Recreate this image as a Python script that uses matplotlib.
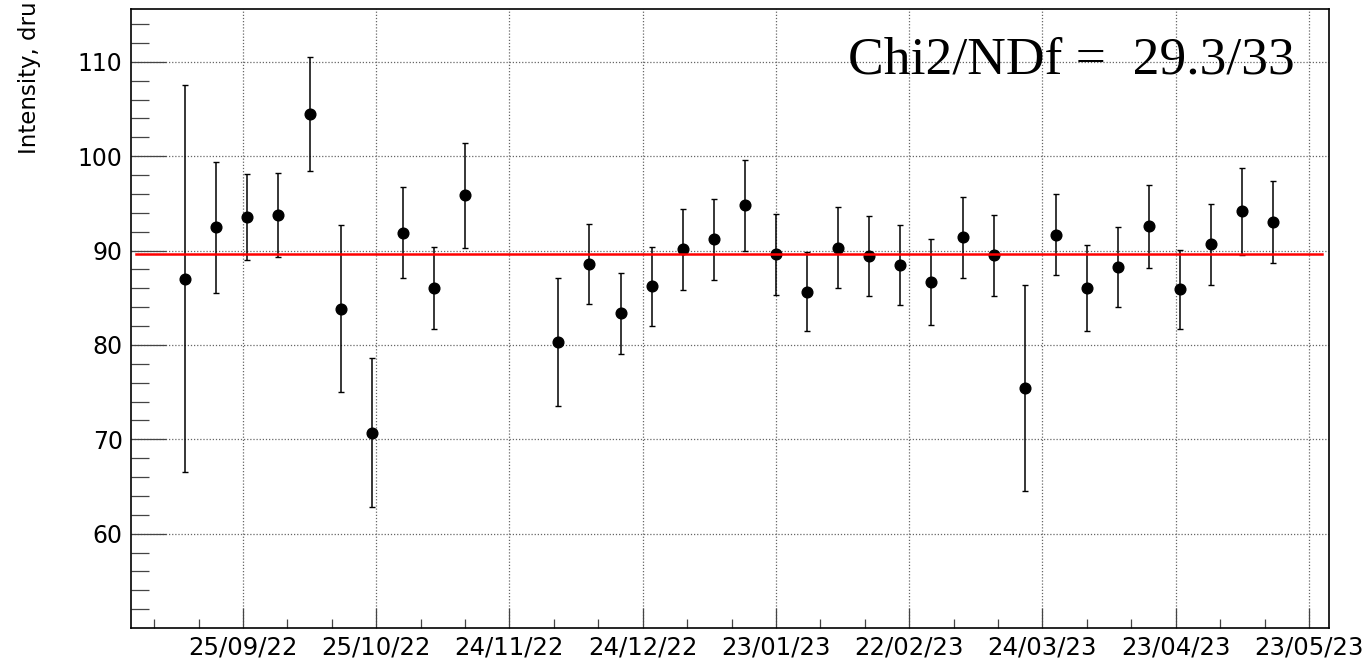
import numpy as np
import matplotlib
matplotlib.use("Agg")
import matplotlib.pyplot as plt
import matplotlib.dates as mdates
from matplotlib.ticker import FixedLocator

# weekly intensity measurements (Mondays), with symmetric errors
dates = [
    "2022-09-12", "2022-09-19", "2022-09-26", "2022-10-03", "2022-10-10",
    "2022-10-17", "2022-10-24", "2022-10-31", "2022-11-07", "2022-11-14",
    "2022-12-05", "2022-12-12", "2022-12-19", "2022-12-26", "2023-01-02",
    "2023-01-09", "2023-01-16", "2023-01-23", "2023-01-30", "2023-02-06",
    "2023-02-13", "2023-02-20", "2023-02-27", "2023-03-06", "2023-03-13",
    "2023-03-20", "2023-03-27", "2023-04-03", "2023-04-10", "2023-04-17",
    "2023-04-24", "2023-05-01", "2023-05-08", "2023-05-15",
]
intensity = [
    87.0, 92.45, 93.6, 93.8, 104.5, 83.85, 70.7, 91.9, 86.0, 95.85,
    80.3, 88.6, 83.35, 86.2, 90.15, 91.2, 94.8, 89.6, 85.65, 90.3,
    89.4, 88.45, 86.7, 91.4, 89.5, 75.4, 91.7, 86.0, 88.25, 92.55,
    85.9, 90.65, 94.15, 93.0,
]
errors = [
    20.5, 6.9, 4.55, 4.45, 6.05, 8.85, 7.9, 4.8, 4.35, 5.6,
    6.75, 4.25, 4.3, 4.15, 4.3, 4.3, 4.8, 4.3, 4.2, 4.3,
    4.25, 4.25, 4.55, 4.3, 4.3, 10.9, 4.3, 4.55, 4.25, 4.35,
    4.2, 4.3, 4.6, 4.35,
]

# constant fit
fit_value = 89.65
fit_range = ["2022-09-01", "2023-05-26"]
chi2_text = "Chi2/NDf =  29.3/33"

x = np.array(dates, dtype="datetime64[D]")
fit_x = np.array(fit_range, dtype="datetime64[D]")

fig = plt.figure(figsize=(13.69, 6.6), dpi=100)
ax = fig.add_axes([131 / 1369, 1 - 628 / 660, 1198 / 1369, 619 / 660])

ax.errorbar(x, intensity, yerr=errors, fmt="o", color="black",
            markersize=7.7, elinewidth=1.1, capsize=2.3, capthick=1.0,
            zorder=3)
ax.plot(fit_x, [fit_value, fit_value], color="#ff0000", lw=1.8, zorder=4)

# axis ranges
ax.set_xlim(np.datetime64("2022-08-30T19:12"), np.datetime64("2023-05-27T12:00"))
ax.set_ylim(50, 115.6)

# time axis: labels every 30 days, minor ticks every 10 days
major_days = np.arange(np.datetime64("2022-09-25"), np.datetime64("2023-05-24"),
                       np.timedelta64(30, "D"))
minor_days = np.arange(np.datetime64("2022-09-05"), np.datetime64("2023-05-27"),
                       np.timedelta64(10, "D"))
ax.xaxis.set_major_locator(FixedLocator(mdates.date2num(major_days)))
ax.xaxis.set_minor_locator(FixedLocator(mdates.date2num(minor_days)))
ax.xaxis.set_major_formatter(mdates.DateFormatter("%d/%m/%y"))

ax.yaxis.set_major_locator(FixedLocator(np.arange(60, 111, 10)))
ax.yaxis.set_minor_locator(FixedLocator(np.arange(52, 115, 2)))

ax.tick_params(axis="both", which="both", direction="in", color="#444444",
               width=0.9, labelsize=17, top=False, right=False)
ax.tick_params(axis="x", which="major", labelsize=17.6, length=14.4, pad=5.5)
ax.tick_params(axis="x", which="minor", length=6.5)
ax.tick_params(axis="y", which="major", length=25, pad=6)
ax.tick_params(axis="y", which="minor", length=13)

ax.grid(True, which="major", color="#666666", linestyle=(0, (1, 1.5)), lw=0.9)
ax.set_axisbelow(True)
for s in ax.spines.values():
    s.set_color("black")
    s.set_linewidth(1.2)

fig.text(30 / 1369, 1 - 1 / 660, "Intensity, dru", rotation=90,
         ha="center", va="top", fontsize=16.5)

ax.text(1295 / 1369, 1 - 73 / 660, chi2_text, transform=fig.transFigure,
        ha="right", va="baseline", fontsize=38.5,
        family=["Liberation Serif", "DejaVu Serif"])

fig.savefig("out.png", dpi=100)
